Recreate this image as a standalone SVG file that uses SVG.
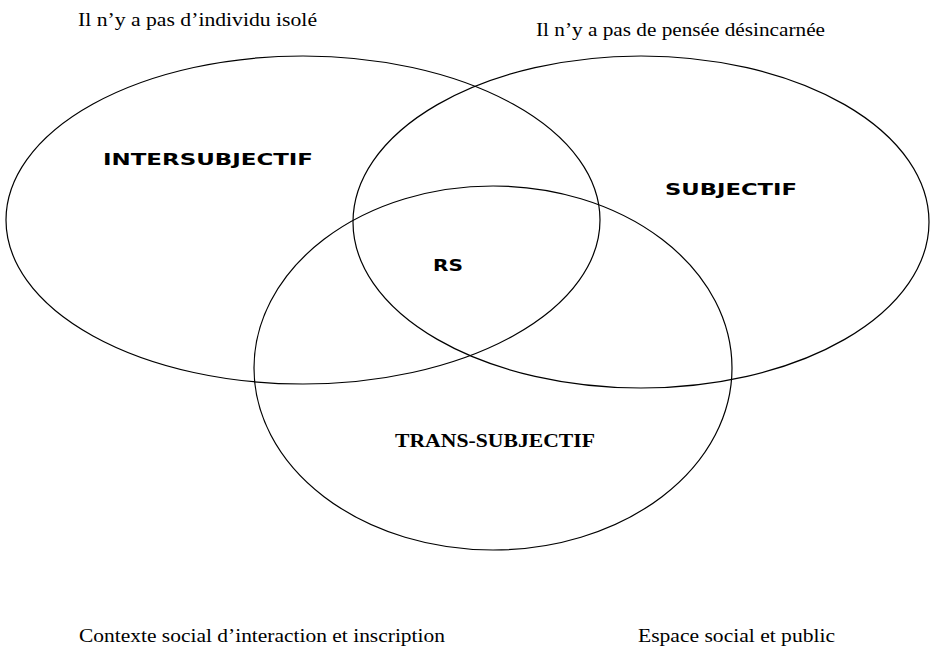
<svg xmlns="http://www.w3.org/2000/svg" width="931" height="648" viewBox="0 0 931 648">
<style>
.e{fill:none;stroke:#000;stroke-width:1.2}
.s{font-family:"Liberation Serif","Times New Roman",serif;font-size:18px;fill:#000}
.b{font-family:"DejaVu Sans",Verdana,sans-serif;font-weight:bold;font-size:16px;fill:#000}
.tb{font-family:"Liberation Serif","Times New Roman",serif;font-weight:bold;font-size:18px;fill:#000}
</style>
<rect width="931" height="648" fill="#fff"/>
<g id="intersubjectif">
<ellipse class="e" cx="303" cy="220" rx="297" ry="164"/>
<text class="b" x="103" y="165" textLength="210" lengthAdjust="spacingAndGlyphs">INTERSUBJECTIF</text>
</g>
<g id="subjectif">
<ellipse class="e" cx="641" cy="222" rx="288" ry="166"/>
<text class="b" x="665" y="195" textLength="132" lengthAdjust="spacingAndGlyphs">SUBJECTIF</text>
</g>
<g id="transsubjectif">
<ellipse class="e" cx="493" cy="368" rx="239" ry="182"/>
<text class="tb" x="395" y="447" textLength="200" lengthAdjust="spacingAndGlyphs">TRANS-SUBJECTIF</text>
</g>
<g id="rs">
<text class="b" x="433" y="271" textLength="30" lengthAdjust="spacingAndGlyphs">RS</text>
</g>
<g id="connectors"></g>
<g id="labels">
<text class="s" x="78" y="26" textLength="239" lengthAdjust="spacingAndGlyphs">Il n’y a pas d’individu isolé</text>
<text class="s" x="536" y="36" textLength="289" lengthAdjust="spacingAndGlyphs">Il n’y a pas de pensée désincarnée</text>
<text class="s" x="79" y="642" textLength="366" lengthAdjust="spacingAndGlyphs">Contexte social d’interaction et inscription</text>
<text class="s" x="638" y="642" textLength="197" lengthAdjust="spacingAndGlyphs">Espace social et public</text>
</g>
</svg>
